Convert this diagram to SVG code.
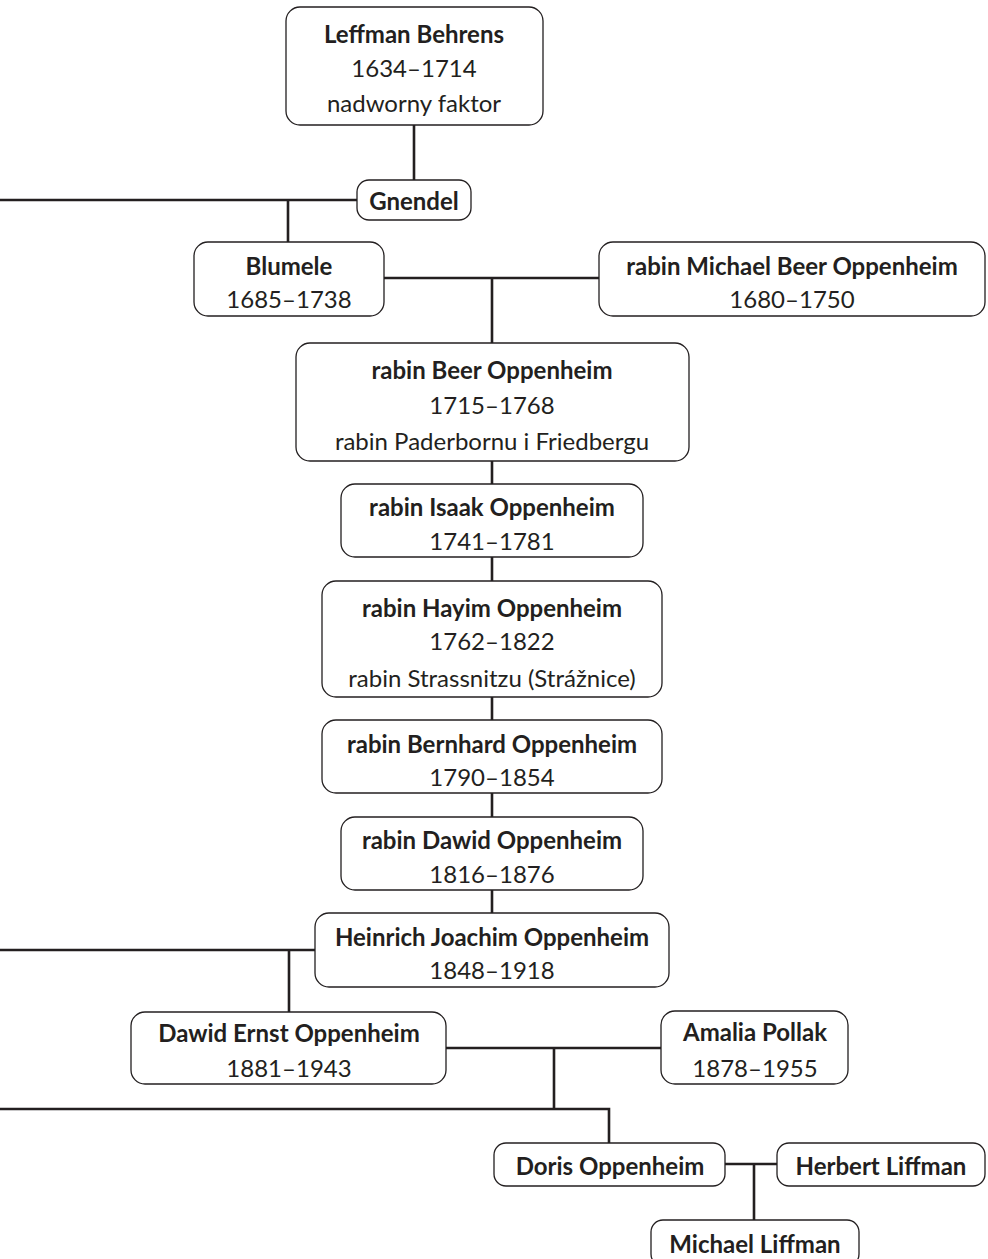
<svg xmlns="http://www.w3.org/2000/svg" width="988" height="1259" viewBox="0 0 988 1259">
<style>
.box{fill:#fff;stroke:#231f20;stroke-width:1.3}
.c{fill:none;stroke:#231f20;stroke-width:2.6}
text{font-family:Lato,"Open Sans",sans-serif;font-size:24px;fill:#231f20;text-anchor:middle;dominant-baseline:central}
.b{font-weight:bold}
</style>
<rect width="988" height="1259" fill="#fff"/>
<g id="connectors">
<path class="c" d="M414 125V181M0 200H357M288 200V242M384 278H600M492 278V343M492 461V484M492 557V581M492 697V720M492 793V817M492 890V913M0 950H315M289 950V1012M446 1048H661M554 1048V1109M0 1109H609V1143M725 1164H777M754 1164V1220"/>
</g>
<g id="leffman"><rect class="box" x="286" y="7" width="257" height="118" rx="14"/><text class="b" x="414" y="33">Leffman Behrens</text><text x="414" y="67">1634–1714</text><text x="414" y="102">nadworny faktor</text></g>
<g id="gnendel"><rect class="box" x="357" y="180" width="114" height="40" rx="12"/><text class="b" x="414" y="200">Gnendel</text></g>
<g id="blumele"><rect class="box" x="194" y="242" width="190" height="74" rx="14"/><text class="b" x="289" y="265">Blumele</text><text x="289" y="298">1685–1738</text></g>
<g id="michaelbeer"><rect class="box" x="599" y="242" width="386" height="74" rx="14"/><text class="b" x="792" y="265">rabin Michael Beer Oppenheim</text><text x="792" y="298">1680–1750</text></g>
<g id="beer"><rect class="box" x="296" y="343" width="393" height="118" rx="14"/><text class="b" x="492" y="369">rabin Beer Oppenheim</text><text x="492" y="404">1715–1768</text><text x="492" y="440">rabin Paderbornu i Friedbergu</text></g>
<g id="isaak"><rect class="box" x="341" y="484" width="302" height="73" rx="14"/><text class="b" x="492" y="506">rabin Isaak Oppenheim</text><text x="492" y="540">1741–1781</text></g>
<g id="hayim"><rect class="box" x="322" y="581" width="340" height="116" rx="14"/><text class="b" x="492" y="607">rabin Hayim Oppenheim</text><text x="492" y="640">1762–1822</text><text x="492" y="677">rabin Strassnitzu (Strážnice)</text></g>
<g id="bernhard"><rect class="box" x="322" y="720" width="340" height="73" rx="14"/><text class="b" x="492" y="743">rabin Bernhard Oppenheim</text><text x="492" y="776">1790–1854</text></g>
<g id="dawid"><rect class="box" x="341" y="817" width="302" height="73" rx="14"/><text class="b" x="492" y="839">rabin Dawid Oppenheim</text><text x="492" y="873">1816–1876</text></g>
<g id="heinrich"><rect class="box" x="315" y="913" width="354" height="74" rx="14"/><text class="b" x="492" y="936">Heinrich Joachim Oppenheim</text><text x="492" y="969">1848–1918</text></g>
<g id="dawidernst"><rect class="box" x="131" y="1012" width="315" height="72" rx="14"/><text class="b" x="289" y="1032">Dawid Ernst Oppenheim</text><text x="289" y="1067">1881–1943</text></g>
<g id="amalia"><rect class="box" x="661" y="1011" width="187" height="73" rx="14"/><text class="b" x="755" y="1031">Amalia Pollak</text><text x="755" y="1067">1878–1955</text></g>
<g id="doris"><rect class="box" x="494" y="1143" width="231" height="43" rx="12"/><text class="b" x="610" y="1165">Doris Oppenheim</text></g>
<g id="herbert"><rect class="box" x="777" y="1143" width="208" height="43" rx="12"/><text class="b" x="881" y="1165">Herbert Liffman</text></g>
<g id="michaelliffman"><rect class="box" x="651" y="1220" width="208" height="46" rx="12"/><text class="b" x="755" y="1243">Michael Liffman</text></g>
</svg>
